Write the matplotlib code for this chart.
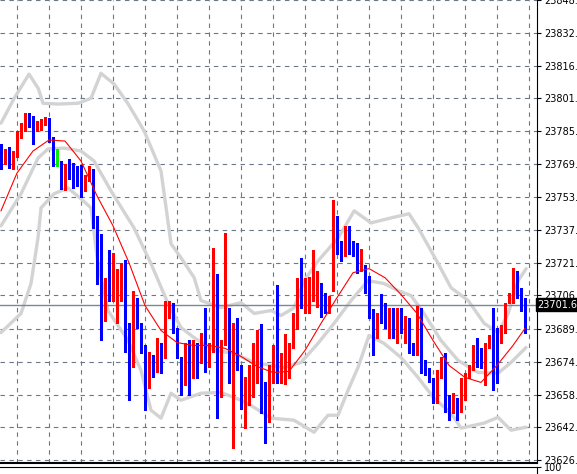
import matplotlib
matplotlib.use("Agg")
import matplotlib.pyplot as plt
import numpy as np

opens = [23777.1,23771.9,23776.7,23769.0,23774.7,23783.4,23786.7,23793.0,23791.1,23786.7,23787.7,23789.6,23790.1,23781.5,23769.5,23768.5,23759.9,23767.1,23768.5,23761.3,
23766.1,23758.9,23762.7,23766.1,23740.7,23716.7,23695.5,23712.8,23709.9,23711.4,23714.3,23718.1,23681.1,23677.3,23703.2,23690.7,23679.7,23662.9,23673.9,23671.1,
23680.7,23675.9,23698.9,23699.9,23689.3,23676.3,23662.9,23680.7,23671.5,23683.1,23679.7,23686.9,23673.5,23680.7,23688.8,23659.1,23685.5,23690.3,23664.3,23690.3,
23670.6,23655.7,23658.1,23659.5,23666.7,23681.6,23660.5,23647.1,23671.1,23681.1,23671.1,23673.0,23673.9,23680.7,23695.5,23707.1,23701.8,23703.2,23707.1,23709.5,
23709.9,23702.7,23700.8,23708.5,23742.6,23728.7,23726.3,23735.4,23731.5,23731.5,23718.1,23720.0,23713.8,23697.9,23685.9,23696.0,23695.1,23690.3,23699.4,23683.5,
23699.9,23689.3,23690.7,23682.1,23678.3,23698.9,23673.9,23669.1,23665.3,23654.7,23666.7,23673.5,23654.7,23652.3,23656.7,23650.9,23661.5,23666.7,23671.5,23678.3,
23676.3,23671.5,23681.1,23685.0,23689.3,23684.5,23688.3,23702.7,23702.7,23715.7,23706.1,23702.7]
closes = [23768.5,23774.7,23769.0,23774.7,23783.4,23786.7,23793.0,23790.1,23786.7,23788.7,23789.6,23791.1,23781.5,23769.5,23769.5,23759.9,23768.5,23765.1,23760.3,23760.3,
23755.5,23762.7,23767.1,23740.2,23716.7,23695.5,23714.3,23709.5,23711.4,23714.7,23718.1,23681.1,23677.3,23703.2,23695.1,23679.7,23662.9,23673.9,23671.1,23680.7,
23675.9,23698.9,23700.3,23689.3,23676.3,23662.9,23683.1,23671.5,23683.1,23677.3,23687.4,23673.5,23680.7,23688.8,23659.1,23682.1,23690.3,23664.3,23690.3,23670.1,
23655.7,23659.1,23661.5,23666.7,23682.1,23653.3,23647.1,23671.1,23681.1,23671.1,23673.0,23674.4,23680.7,23695.5,23707.5,23701.8,23704.7,23708.0,23709.9,23709.9,
23702.7,23700.8,23701.8,23743.1,23727.7,23725.3,23735.4,23731.1,23726.7,23718.1,23720.0,23713.8,23696.5,23685.9,23696.5,23695.1,23693.1,23699.4,23685.9,23695.1,
23689.3,23695.1,23678.3,23678.3,23700.8,23670.1,23668.7,23665.3,23654.7,23666.7,23672.5,23653.3,23652.3,23656.7,23650.9,23661.5,23666.7,23668.7,23678.3,23672.5,
23671.5,23681.1,23685.9,23668.7,23668.7,23689.3,23702.7,23707.5,23716.7,23706.1,23701.3,23701.6]
highs = [23779.1,23776.7,23777.6,23775.7,23785.3,23789.1,23793.9,23793.9,23792.5,23790.1,23791.1,23792.0,23791.5,23782.4,23776.7,23770.9,23769.5,23771.9,23769.9,23768.5,
23769.0,23764.2,23768.5,23767.1,23744.5,23735.9,23714.7,23728.2,23726.7,23719.1,23721.9,23723.4,23693.1,23708.5,23704.7,23693.1,23682.1,23678.7,23677.3,23685.9,
23683.1,23703.7,23703.7,23702.3,23690.7,23676.3,23683.1,23684.5,23684.5,23683.1,23688.3,23700.3,23683.1,23729.1,23716.7,23684.5,23736.3,23700.3,23693.1,23695.5,
23672.5,23666.7,23672.5,23683.5,23689.3,23692.2,23664.3,23672.5,23682.1,23711.4,23678.3,23687.4,23683.1,23697.5,23714.7,23724.3,23714.7,23715.2,23728.2,23718.1,
23712.3,23707.5,23706.1,23752.2,23744.5,23732.5,23739.7,23739.7,23732.5,23731.5,23728.7,23721.0,23715.7,23699.4,23697.9,23707.1,23702.7,23700.3,23700.3,23700.3,
23700.3,23696.5,23695.1,23683.1,23701.3,23699.9,23674.9,23671.1,23666.3,23670.1,23676.3,23678.3,23658.1,23659.1,23656.7,23666.3,23668.7,23672.5,23682.1,23685.5,
23680.7,23683.1,23686.9,23699.9,23690.3,23691.7,23702.7,23707.5,23719.5,23718.1,23709.9,23704.7]
lows = [23767.1,23769.5,23767.5,23767.1,23772.8,23781.9,23785.3,23787.2,23779.1,23785.3,23785.8,23788.2,23780.0,23768.5,23768.5,23757.5,23757.0,23762.3,23757.9,23758.9,
23753.6,23756.5,23761.3,23738.7,23711.9,23684.5,23694.1,23703.7,23703.7,23692.7,23703.7,23678.7,23655.7,23671.5,23690.7,23678.3,23650.9,23661.5,23666.7,23669.1,
23668.7,23675.9,23695.5,23687.9,23675.9,23658.1,23662.9,23658.1,23666.3,23666.3,23673.5,23669.1,23671.5,23678.7,23647.1,23657.1,23682.1,23663.9,23632.7,23670.1,
23651.4,23642.3,23653.3,23657.1,23663.9,23649.5,23635.1,23645.1,23663.9,23663.9,23663.9,23663.4,23666.3,23680.7,23689.8,23700.3,23697.5,23697.9,23703.7,23700.8,
23696.0,23697.5,23697.5,23708.5,23726.3,23722.9,23725.3,23726.3,23725.3,23717.1,23718.1,23707.5,23695.5,23677.3,23685.5,23692.7,23690.3,23685.9,23685.5,23683.5,
23687.9,23683.5,23678.3,23677.3,23677.3,23668.7,23667.7,23664.3,23654.3,23654.3,23666.3,23649.9,23646.1,23649.5,23646.1,23649.9,23655.7,23666.3,23670.1,23671.5,
23671.1,23662.9,23680.7,23660.5,23663.9,23683.5,23687.9,23702.3,23702.3,23705.1,23698.9,23687.9]

ma_idx = [0,4,8,12,16,20,24,28,32,36,40,44,48,52,56,60,64,68,72,76,80,84,88,92,96,100,104,108,112,116,120,124,128,131]
ma_val = [23746.9,23765.1,23775.7,23781.0,23780.5,23770.9,23754.1,23739.7,23721.9,23701.3,23689.3,23683.5,23682.1,23682.1,23680.7,23676.8,23672.0,
23669.1,23669.6,23679.7,23692.7,23705.1,23717.1,23719.1,23714.7,23706.6,23697.5,23684.5,23672.5,23666.7,23664.3,23672.5,23682.1,23690.3]

up_idx = [0,3.3,7,9.3,10.5,14.3,19.3,22.5,25,28.3,31.8,35.8,40,42.5,45,48.3,50,55,60,63.3,67.5,70,73.3,75.8,79.3,84.3,88.3,92.5,97.5,102,104.3,109.3,112.5,116.8,120.8,124.3,126.8,129.3,131.3]
up_val = [23789.1,23801.1,23812.7,23805.9,23798.7,23798.3,23798.7,23801.1,23813.1,23807.9,23798.3,23785.3,23766.1,23731.1,23724.3,23714.7,23703.7,23700.3,23702.7,
23697.5,23698.9,23696.5,23700.3,23713.3,23722.9,23733.9,23746.9,23741.1,23743.5,23745.5,23738.7,23721.5,23709.9,23703.7,23692.7,23688.3,23697.5,23713.3,23719.1]
mid_idx = [0,5,9.25,11.75,15.75,20,23.25,27.5,33.25,37.5,41.75,45,48.25,53.25,58.25,63.25,67.5,70.75,75,79.25,83.25,87.5,91.75,95.75,99.25,102.5,105.75,110,114.25,119.25,124.25,127.5,131.25]
mid_val = [23739.7,23755.1,23772.3,23776.7,23777.1,23775.7,23770.9,23756.5,23738.7,23721.5,23702.3,23690.7,23685.9,23679.7,23678.3,23673.9,23672.5,23671.5,
23673.9,23683.1,23692.7,23703.7,23713.3,23711.9,23708.5,23706.1,23697.5,23684.5,23674.9,23669.1,23668.7,23673.9,23681.1]
lo_idx = [0,5,7.5,9.25,10,13.25,16.75,20,22.5,24.25,26.75,31.75,35,37.5,40,42.5,45,50,55,60,63.25,67.5,73.25,78.25,81.75,84.25,86.75,89.25,92,95.75,100,104.25,108.25,112.5,115,120.75,124.25,127.5,131.25]
lo_val = [23688.3,23697.5,23711.9,23733.9,23748.3,23755.1,23757.9,23752.7,23748.3,23721.5,23698.9,23684.5,23670.1,23650.9,23647.1,23659.1,23655.7,23659.1,
23659.5,23655.7,23652.3,23647.1,23646.1,23640.3,23648.5,23648.5,23660.5,23671.5,23686.9,23683.1,23676.3,23666.7,23656.7,23649.5,23642.3,23644.7,23647.5,23641.3,23642.7]

ticks = [23626.95,23642.70,23658.45,23674.20,23689.95,23706.15,23721.90,23737.65,23753.40,23769.60,23785.35,23801.10,23816.85,23832.65,23848.40]
last_price = 23701.60

W, H = 577, 474
fig = plt.figure(figsize=(W/100, H/100), dpi=100)
ax = fig.add_axes([0, 1-463/H, 537/W, 463/H])
ax.set_xlim(-0.25, 134)
ax.set_ylim(23625.5, 23847.7)
gc = '#6a7888'
for t in ticks:
    ax.axhline(t, color=gc, lw=0.8, ls=(0, (4, 4)), zorder=0)
for gx in np.arange(4, 134, 8):
    ax.axvline(gx, color=gc, lw=0.8, ls=(0, (4, 4)), zorder=0)

bc = '#d3d3d3'
for xi, yv in ((up_idx, up_val), (mid_idx, mid_val), (lo_idx, lo_val)):
    ax.plot(xi, yv, color=bc, lw=2.4, solid_capstyle='round', solid_joinstyle='round', zorder=1)
ax.axhline(last_price, color='#7a8898', lw=1, zorder=1)

x = np.arange(len(opens))
o = np.array(opens); c = np.array(closes)
cols = ['#00ee00' if cc == oo else ('#ff0000' if cc > oo else '#0000ff') for oo, cc in zip(o, c)]
ax.vlines(x, lows, highs, colors=cols, lw=0.75, antialiased=False, zorder=2)
hgt = np.where(np.abs(c - o) < 0.5, 0.5, c - o)
ax.bar(x, hgt, bottom=o, width=0.6, color=cols, linewidth=0, antialiased=False, zorder=3)
ax.plot(ma_idx, ma_val, color='#ff0000', lw=0.8, zorder=4)

ax.set_xticks([])
ax.yaxis.tick_right()
ax.set_yticks(ticks)
ax.set_yticklabels([f"{t:.2f}" for t in ticks], fontsize=7)
ax.tick_params(axis='y', length=3, pad=2, colors='black')
for s in ['top', 'left']:
    ax.spines[s].set_visible(False)
ax.spines['bottom'].set_linewidth(1.5)
ax.text(1.0, last_price, f"{last_price:.2f}", transform=ax.get_yaxis_transform(),
        fontsize=7, color='white', va='center', ha='left',
        bbox=dict(boxstyle='square,pad=0.15', fc='black', ec='black'), zorder=10, clip_on=False)

ax2 = fig.add_axes([0, 0, 537/W, 7/H])
ax2.set_xlim(0, 1); ax2.set_ylim(0, 100)
ax2.set_xticks([]); ax2.yaxis.tick_right()
ax2.set_yticks([100]); ax2.set_yticklabels(['100'], fontsize=7)
ax2.tick_params(axis='y', length=3, pad=2)
for s in ['bottom', 'left']:
    ax2.spines[s].set_visible(False)
fig.savefig('out.png', dpi=100)
